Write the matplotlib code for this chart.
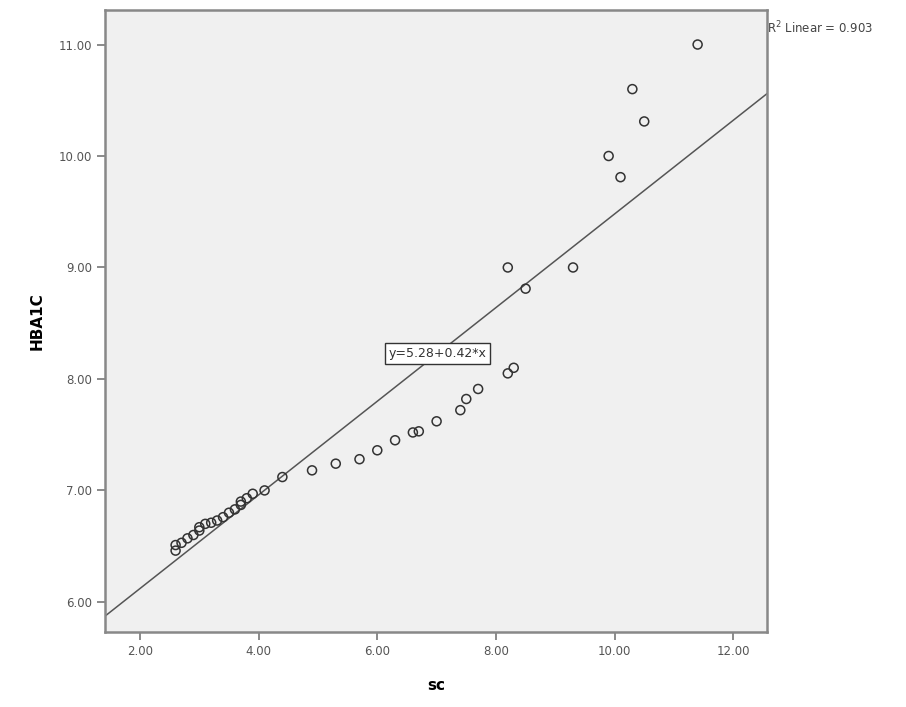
import matplotlib
matplotlib.use("Agg")
import matplotlib.pyplot as plt
import numpy as np

sc = [2.6, 2.6, 2.7, 2.8, 2.9, 3.0, 3.0, 3.1, 3.2, 3.3, 3.4, 3.5, 3.6, 3.7, 3.7, 3.8, 3.9,
      4.1, 4.4, 4.9, 5.3, 5.7, 6.0, 6.3, 6.6, 6.7, 7.0, 7.4, 7.5, 7.7, 8.2, 8.3,
      8.5, 8.2, 9.3, 9.9, 10.1, 10.5, 10.3, 11.4]
hba1c = [6.46, 6.51, 6.53, 6.57, 6.60, 6.64, 6.67, 6.70, 6.71, 6.73, 6.76, 6.80, 6.83, 6.87, 6.90, 6.93, 6.97,
         7.00, 7.12, 7.18, 7.24, 7.28, 7.36, 7.45, 7.52, 7.53, 7.62, 7.72, 7.82, 7.91, 8.05, 8.10,
         8.81, 9.00, 9.00, 10.00, 9.81, 10.31, 10.60, 11.00]
intercept = 5.28
slope = 0.42
r2 = 0.903
xticks = [2, 4, 6, 8, 10, 12]
yticks = [6, 7, 8, 9, 10, 11]

fig = plt.figure(figsize=(9.06, 7.07), dpi=100)
ax = fig.add_axes([0.1159, 0.1061, 0.7307, 0.8798])
ax.set_facecolor("#f0f0f0")
ax.set_xlim(1.41, 12.57)
ax.set_ylim(5.73, 11.31)

xl = np.array(ax.get_xlim())
ax.plot(xl, intercept + slope * xl, color="#555555", lw=1.1, zorder=2)
ax.scatter(sc, hba1c, s=42, facecolors="none", edgecolors="#333333", linewidths=1.1, zorder=3)

ax.set_xticks(xticks)
ax.set_xticklabels([f"{v:.2f}" for v in xticks])
ax.set_yticks(yticks)
ax.set_yticklabels([f"{v:.2f}" for v in yticks])
ax.tick_params(direction="out", length=6, width=1.2, color="#777777",
               labelcolor="#555555", labelsize=8.5)
for s in ax.spines.values():
    s.set_color("#888888")
    s.set_linewidth(1.8)

ax.set_xlabel("sc", fontsize=11, fontweight="bold", labelpad=14)
ax.set_ylabel("HBA1C", fontsize=11, fontweight="bold", labelpad=10)

ax.text(7.01, 8.23, f"y={intercept:.2f}+{slope:.2f}*x", ha="center", va="center",
        fontsize=9, color="#333333",
        bbox=dict(boxstyle="square,pad=0.3", fc="white", ec="#333333", lw=1))
fig.text(0.847, 0.96, f"R$^2$ Linear = {r2:.3f}", fontsize=8.5, color="#444444",
         ha="left", va="center")

fig.savefig("out.png", dpi=100, facecolor="white")
